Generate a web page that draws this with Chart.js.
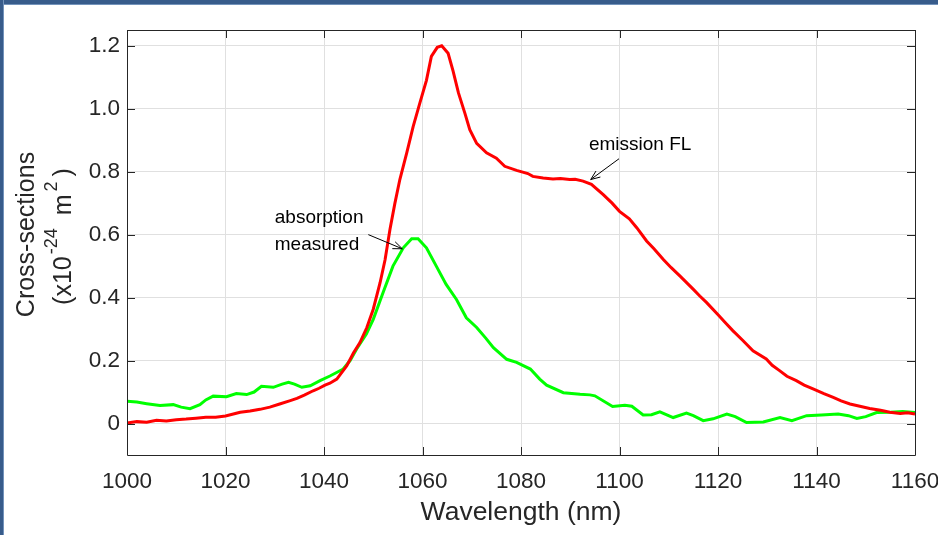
<!DOCTYPE html>
<html>
<head>
<meta charset="utf-8">
<script src="https://cdn.jsdelivr.net/npm/chart.js@4.4.1/dist/chart.umd.min.js"></script>
<style>
  html, body { margin: 0; padding: 0; background: #fff; overflow: hidden; }
  #wrap { position: relative; width: 938px; height: 535px; }
  #frameTop { position: absolute; left: 0; top: 0; width: 938px; height: 4px; background: #385c8b; border-bottom: 1px solid #7393bb; }
  #frameLeft { position: absolute; left: 0; top: 0; width: 3px; height: 535px; background: #385c8b; border-right: 1px solid #7393bb; }
</style>
</head>
<body>
<div id="wrap">
  <canvas id="chart" width="938" height="535"></canvas>
  <div id="frameTop"></div>
  <div id="frameLeft"></div>
</div>
<script>
// emission FL (red)
var emisX = [1000,1002,1004,1006,1008,1010,1012,1014,1016,1018,1020,1022,1023,1025,1027,1029,1031,1033,1034.5,1036,1037.8,1039,1040.2,1041.2,1042.6,1044.6,1046,1047.3,1048.7,1050,1051.4,1052.4,1053.4,1054.4,1055.4,1056.8,1058.1,1059.5,1060.8,1061.8,1063,1063.9,1065.2,1066.2,1067.3,1068.6,1069.6,1071,1073,1075,1076.7,1079.1,1081.4,1082.4,1084.5,1086.5,1088,1089.9,1091,1092.6,1094.3,1096.7,1098.5,1100,1102,1103.5,1105.5,1107,1108.9,1110.5,1112.3,1115,1116.3,1117.7,1120.2,1121.5,1123,1125.1,1127.1,1129.8,1131,1132.5,1134,1135.9,1137.5,1139.3,1141.5,1143.4,1145,1146.8,1148.8,1150.8,1153,1154.9,1157,1158.5,1160]
var emisY = [0.002,0.006,0.004,0.010,0.008,0.012,0.014,0.017,0.020,0.020,0.024,0.032,0.036,0.040,0.045,0.052,0.062,0.072,0.080,0.090,0.104,0.112,0.122,0.128,0.141,0.183,0.225,0.257,0.305,0.363,0.448,0.520,0.617,0.700,0.775,0.860,0.943,1.020,1.090,1.166,1.195,1.200,1.176,1.120,1.050,0.986,0.933,0.890,0.860,0.843,0.817,0.804,0.794,0.785,0.780,0.777,0.778,0.775,0.776,0.770,0.760,0.727,0.700,0.674,0.650,0.622,0.580,0.555,0.521,0.495,0.468,0.426,0.405,0.384,0.342,0.320,0.295,0.263,0.231,0.205,0.185,0.168,0.150,0.136,0.122,0.110,0.095,0.083,0.072,0.062,0.055,0.048,0.042,0.036,0.032,0.034,0.030]

// absorption measured (green)
var absX = [1000,1002,1004,1006.7,1009.4,1011,1012.8,1014.8,1016,1017.5,1020.2,1022.2,1024.3,1025.8,1027.3,1029.7,1031.5,1032.8,1034,1035.5,1037.2,1039.2,1041.2,1043.9,1045.3,1046.6,1048.6,1050,1052,1054,1056.1,1057.8,1059.1,1060.8,1062.8,1064.8,1066.9,1068.9,1071,1072.8,1074.4,1077.1,1079.1,1081.9,1083.8,1085.2,1088.6,1092,1094,1095,1098.6,1101.1,1102.5,1104.8,1106.5,1108.2,1110.9,1113.6,1115,1117,1119,1121.8,1123.5,1125.8,1127.5,1129.2,1132.6,1135,1138,1141,1144.4,1146.5,1148.2,1150,1152.2,1155,1157.5,1160]
var absY = [0.071,0.068,0.063,0.057,0.060,0.052,0.047,0.060,0.075,0.087,0.085,0.095,0.092,0.100,0.118,0.115,0.125,0.131,0.125,0.115,0.120,0.136,0.151,0.173,0.200,0.236,0.284,0.331,0.416,0.500,0.558,0.587,0.587,0.558,0.500,0.442,0.394,0.336,0.305,0.272,0.241,0.204,0.194,0.173,0.141,0.122,0.098,0.093,0.091,0.088,0.054,0.058,0.055,0.027,0.028,0.037,0.019,0.033,0.025,0.009,0.015,0.030,0.022,0.003,0.004,0.005,0.019,0.009,0.025,0.027,0.030,0.025,0.016,0.022,0.035,0.036,0.038,0.035]

var xTicks = [1000,1020,1040,1060,1080,1100,1120,1140,1160]
var yTicks = [0,0.2,0.4,0.6,0.8,1.0,1.2]

var font = '"Liberation Sans", Arial, Helvetica, sans-serif'
var ink = '#262626'

function pts(xs, ys){
    var out = []
    for(var i=0;i<xs.length;i++){ out.push({x:xs[i], y:ys[i]}) }
    return out
}

// box, inward ticks, y title and arrow notes, like the matlab figure
var extras = {
    id: 'extras',
    afterDraw: function(chart){
        var c = chart.ctx, a = chart.chartArea
        var sx = chart.scales.x, sy = chart.scales.y
        c.save()
        c.strokeStyle = ink
        c.lineWidth = 1
        c.beginPath()
        c.rect(Math.round(a.left)+0.5, Math.round(a.top)+0.5, Math.round(a.right-a.left), Math.round(a.bottom-a.top))
        c.stroke()
        var tl = 8
        c.beginPath()
        xTicks.forEach(function(v){
            var px = Math.round(sx.getPixelForValue(v))+0.5
            c.moveTo(px, a.bottom); c.lineTo(px, a.bottom-tl)
            c.moveTo(px, a.top); c.lineTo(px, a.top+tl)
        })
        yTicks.forEach(function(v){
            var py = Math.round(sy.getPixelForValue(v))+0.5
            c.moveTo(a.left, py); c.lineTo(a.left+tl, py)
            c.moveTo(a.right, py); c.lineTo(a.right-tl, py)
        })
        c.stroke()

        // y title with superscripts: [text, size, raise, gap before, gap after]
        c.fillStyle = ink
        c.translate(0, (a.top+a.bottom)/2 - 8)
        c.rotate(-Math.PI/2)
        c.textBaseline = 'alphabetic'
        c.textAlign = 'center'
        c.font = '25px ' + font
        c.fillText('Cross-sections', 0, 34)
        var parts = [['(x10',25,0,0,0],['-24',18,14,2,6],[' m',25,0,0,0],['2',18,14,3,5],[')',25,0,0,0]]
        var w = 0
        parts.forEach(function(p){ c.font = p[1]+'px '+font; w += c.measureText(p[0]).width + p[3] + p[4] })
        var cx = -w/2 - 2
        c.textAlign = 'left'
        parts.forEach(function(p){
            c.font = p[1]+'px '+font
            cx += p[3]
            c.fillText(p[0], cx, 71 - p[2])
            cx += c.measureText(p[0]).width + p[4]
        })
        c.restore()

        // notes
        c.save()
        c.fillStyle = '#000'
        c.font = '19px ' + font
        c.textBaseline = 'alphabetic'
        c.fillText('absorption', sx.getPixelForValue(1030), sy.getPixelForValue(0.638))
        c.fillText('measured', sx.getPixelForValue(1030), sy.getPixelForValue(0.550))
        c.fillText('emission FL', sx.getPixelForValue(1093.8), sy.getPixelForValue(0.870))
        arrow(c, sx.getPixelForValue(1049), sy.getPixelForValue(0.60), sx.getPixelForValue(1055.9), sy.getPixelForValue(0.555))
        arrow(c, sx.getPixelForValue(1099.9), sy.getPixelForValue(0.841), sx.getPixelForValue(1094.15), sy.getPixelForValue(0.775))
        c.restore()
    }
}

function arrow(c, x1, y1, x2, y2){
    var ang = Math.atan2(y2-y1, x2-x1)
    c.strokeStyle = '#000'
    c.lineWidth = 1
    c.beginPath(); c.moveTo(x1,y1); c.lineTo(x2,y2); c.stroke()
    var h = 10, s = 0.38
    c.beginPath()
    c.moveTo(x2 - h*Math.cos(ang-s), y2 - h*Math.sin(ang-s))
    c.lineTo(x2, y2)
    c.lineTo(x2 - h*Math.cos(ang+s), y2 - h*Math.sin(ang+s))
    c.stroke()
}

new Chart(document.getElementById('chart'), {
    type: 'line',
    data: {
        datasets: [
            { label: 'emission FL', data: pts(emisX, emisY), borderColor: '#ff0000', borderWidth: 3, pointRadius: 0, tension: 0 },
            { label: 'absorption measured', data: pts(absX, absY), borderColor: '#00ff00', borderWidth: 3, pointRadius: 0, tension: 0 }
        ]
    },
    options: {
        responsive: false,
        animation: false,
        events: [],
        layout: { padding: { top: 30, right: 23, left: 0, bottom: 0 } },
        plugins: { legend: { display: false }, tooltip: { enabled: false } },
        scales: {
            x: {
                type: 'linear', min: 1000, max: 1160,
                afterBuildTicks: function(s){ s.ticks = xTicks.map(function(v){ return {value:v} }) },
                afterFit: function(s){ s.height = 80; s.paddingLeft = 0; s.paddingRight = 0 },
                ticks: { color: ink, font: { family: font, size: 22.5 }, padding: 13, maxRotation: 0, autoSkip: false,
                         callback: function(v){ return String(v) } },
                grid: { color: '#e0e0e0', drawTicks: false },
                border: { display: false },
                title: { display: true, text: 'Wavelength (nm)', color: ink, font: { family: font, size: 26.5 }, padding: { top: 0, bottom: 6 } }
            },
            y: {
                type: 'linear', min: -0.1, max: 1.25,
                afterBuildTicks: function(s){ s.ticks = yTicks.map(function(v){ return {value:v} }) },
                afterFit: function(s){ s.width = 127; s.paddingTop = 0; s.paddingBottom = 0 },
                ticks: { color: ink, font: { family: font, size: 22.5 }, padding: 7, autoSkip: false,
                         callback: function(v){ return v === 0 ? '0' : v.toFixed(1) } },
                grid: { color: '#e0e0e0', drawTicks: false },
                border: { display: false }
            }
        }
    },
    plugins: [extras]
});
</script>
</body>
</html>
